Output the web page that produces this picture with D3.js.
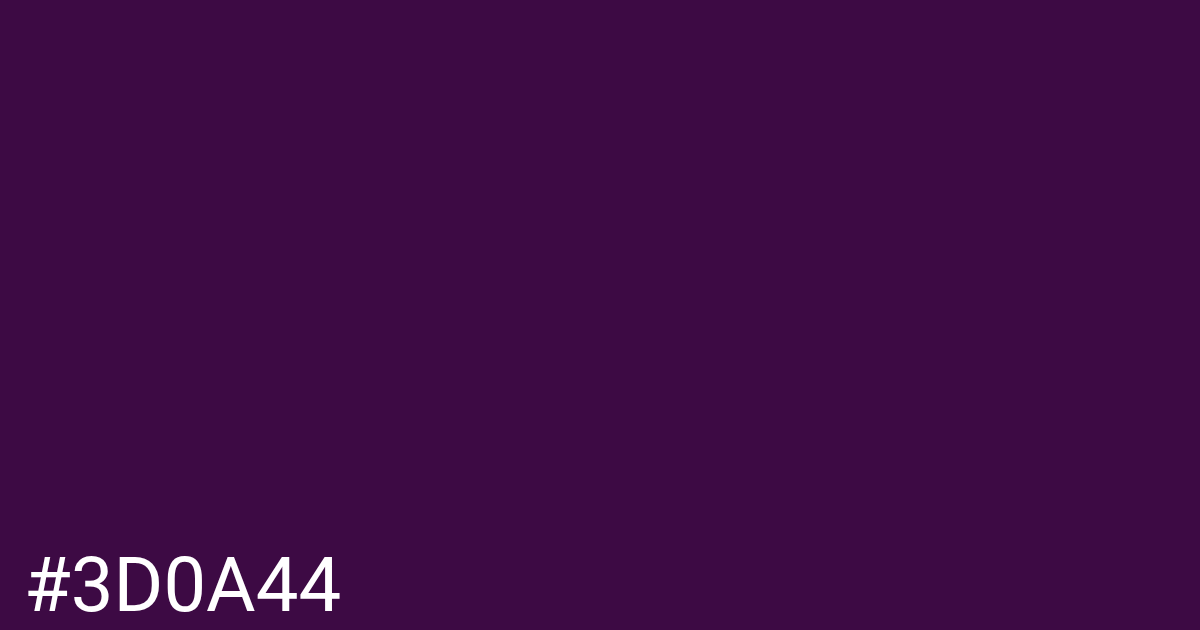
<!DOCTYPE html>
<html lang="en">
<head>
    <meta charset="UTF-8">
    <title>#3D0A44</title>
    <script src="https://d3js.org/d3.v7.min.js"></script>
    <style>
        html, body { margin: 0; padding: 0; overflow: hidden; }
    </style>
</head>
<body>
<div id="swatch"></div>
<script>
    // colour swatch data
    var swatchColors = ['#3D0A44'];
    var swatchLabels = ['#3D0A44'];

    var width = 1200, height = 630;

    var svg = d3.select("#swatch")
        .append("svg")
        .attr("width", width)
        .attr("height", height);

    // one band per swatch (only one here)
    var x = d3.scaleBand()
        .domain(swatchLabels)
        .range([0, width]);

    svg.selectAll("rect.swatch")
        .data(swatchColors)
        .enter()
        .append("rect")
        .attr("class", "swatch")
        .attr("x", function(d, i) { return x(swatchLabels[i]); })
        .attr("y", 0)
        .attr("width", x.bandwidth())
        .attr("height", height)
        .attr("fill", function(d) { return d; });

    svg.selectAll("text.label")
        .data(swatchLabels)
        .enter()
        .append("text")
        .attr("class", "label")
        .attr("x", function(d) { return x(d) + 24; })
        .attr("y", 611)
        .attr("fill", "#ffffff")
        .style("font-family", "Roboto, 'Noto Sans', sans-serif")
        .style("font-size", "76px")
        .text(function(d) { return d; });
</script>
</body>
</html>
